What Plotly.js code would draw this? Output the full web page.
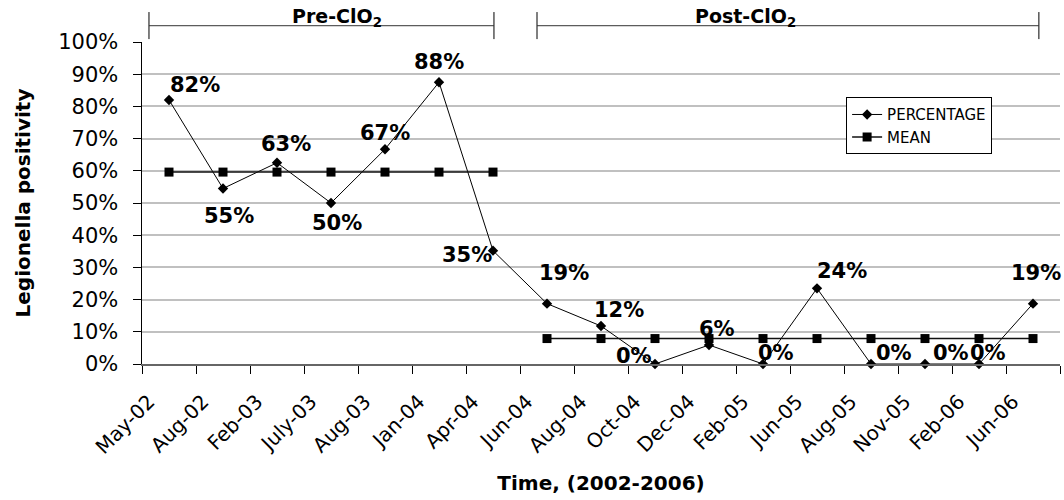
<!DOCTYPE html>
<html>
<head>
<meta charset="utf-8">
<script src="https://cdn.plot.ly/plotly-3.0.1.min.js"></script>
<style>html,body{margin:0;padding:0;background:#fff;}#chart{width:1064px;height:500px;}</style>
</head>
<body>
<div id="chart"></div>
<script>
// ---- data ----
const categories = ['May-02','Aug-02','Feb-03','July-03','Aug-03','Jan-04','Apr-04','Jun-04','Aug-04','Oct-04','Dec-04','Feb-05','Jun-05','Aug-05','Nov-05','Feb-06','Jun-06'];
const percentage = [82, 54.5, 62.5, 50, 66.7, 87.5, 35.2, 18.75, 11.8, 0, 5.9, 0, 23.5, 0, 0, 0, 18.75];
const percentLabels = ['82%','55%','63%','50%','67%','88%','35%','19%','12%','0%','6%','0%','24%','0%','0%','0%','19%'];
const meanPre = [59.6, 59.6, 59.6, 59.6, 59.6, 59.6, 59.6, null, null, null, null, null, null, null, null, null, null];
const meanPost = [null, null, null, null, null, null, null, 7.9, 7.9, 7.9, 7.9, 7.9, 7.9, 7.9, 7.9, 7.9, 7.9];
const yTickVals = [0, 10, 20, 30, 40, 50, 60, 70, 80, 90, 100];
const yTickText = ['0%', '10%', '20%', '30%', '40%', '50%', '60%', '70%', '80%', '90%', '100%'];
const periodNames = ['Pre-ClO<sub>2</sub>', 'Post-ClO<sub>2</sub>'];

// label offsets in pixels (dx right, dy down)
const labelOffsets = [[26,-15],[6,27],[9,-19],[6,20],[0,-16],[0,-20],[-26,4],[17,-31],[18,-16],[-21,-8],[8,-16],[13,-11],[25,-17],[23,-11],[26,-11],[9,-11],[3,-31]];

const FONT = 'DejaVu Sans, Arial, sans-serif';

const traces = [
  {x: categories, y: percentage, type: 'scatter', mode: 'lines+markers', name: 'PERCENTAGE',
    line: {color: '#000', width: 1}, marker: {symbol: 'diamond', size: 8, color: '#000'}, cliponaxis: false},
  {x: categories, y: meanPre, type: 'scatter', mode: 'lines+markers', name: 'MEAN', legendgroup: 'mean',
    line: {color: '#111', width: 1.5}, marker: {symbol: 'square', size: 9, color: '#000'}, cliponaxis: false},
  {x: categories, y: meanPost, type: 'scatter', mode: 'lines+markers', name: 'MEAN', legendgroup: 'mean', showlegend: false,
    line: {color: '#111', width: 1.5}, marker: {symbol: 'square', size: 9, color: '#000'}, cliponaxis: false}
];

const annotations = percentage.map((v,i)=>({
  x: categories[i], y: v, xref: 'x', yref: 'y', text: percentLabels[i], showarrow: false,
  xanchor: 'center', yanchor: 'middle',
  xshift: labelOffsets[i][0], yshift: -labelOffsets[i][1],
  font: {family: FONT, size: 21, color: '#000', weight: 'bold'}
}));
annotations.push({xref:'paper', yref:'paper', x:0.2124, y:1.0776, xanchor:'center', yanchor:'middle',
  text:'<b>'+periodNames[0]+'</b>', showarrow:false, font:{family:FONT, size:19, color:'#000'}});
annotations.push({xref:'paper', yref:'paper', x:0.657, y:1.0776, xanchor:'center', yanchor:'middle',
  text:'<b>'+periodNames[1]+'</b>', showarrow:false, font:{family:FONT, size:19, color:'#000'}});

const bl = {color:'#000', width:1};
const hl = {color:'#333', width:1};
const shapes = [
  {type:'line', xref:'paper', yref:'paper', x0:0.0076, x1:0.0076, y0:1.009, y1:1.093, line:bl},
  {type:'line', xref:'paper', yref:'paper', x0:0.3834, x1:0.3834, y0:1.009, y1:1.093, line:bl},
  {type:'line', xref:'paper', yref:'paper', x0:0.0076, x1:0.3834, y0:1.0506, y1:1.0506, line:hl},
  {type:'line', xref:'paper', yref:'paper', x0:0.4303, x1:0.4303, y0:1.009, y1:1.093, line:bl},
  {type:'line', xref:'paper', yref:'paper', x0:0.977, x1:0.977, y0:1.009, y1:1.093, line:bl},
  {type:'line', xref:'paper', yref:'paper', x0:0.4303, x1:0.977, y0:1.0506, y1:1.0506, line:hl}
];

const layout = {
  width: 1064, height: 500,
  margin: {l: 142, r: 4, t: 42, b: 136},
  paper_bgcolor: '#fff', plot_bgcolor: '#fff',
  font: {family: FONT, color: '#000'},
  showlegend: true,
  legend: {x: 0.767, y: 0.74, xanchor: 'left', yanchor: 'middle', bgcolor: '#fff', bordercolor: '#000', borderwidth: 1,
    font: {family: FONT, size: 15, color: '#000'}, tracegroupgap: 0, itemwidth: 30},
  xaxis: {type: 'category', range: [-0.5, 16.5], tickson: 'boundaries', ticks: 'outside', ticklen: 8, tickcolor: '#000',
    showline: true, linecolor: '#666', linewidth: 2, showgrid: false, zeroline: false,
    tickangle: -45, ticklabelshift: -20, ticklabelstandoff: 16,
    tickfont: {family: FONT, size: 20, color: '#000'},
    title: {text: 'Time, (2002-2006)', font: {family: FONT, size: 20, color: '#000', weight: 'bold'}, standoff: 18}},
  yaxis: {range: [0, 100], tickmode: 'array', tickvals: yTickVals, ticktext: yTickText,
    ticks: 'outside', ticklen: 8, tickcolor: '#000', showline: true, linecolor: '#000', linewidth: 1.5,
    showgrid: true, gridcolor: '#c0c0c0', gridwidth: 2, zeroline: false, ticklabelstandoff: 10,
    tickfont: {family: FONT, size: 21, color: '#000'},
    title: {text: 'Legionella positivity', font: {family: FONT, size: 20, color: '#000', weight: 'bold'}, standoff: 22}},
  annotations: annotations,
  shapes: shapes
};

Plotly.newPlot('chart', traces, layout, {displayModeBar: false, staticPlot: true});
</script>
</body>
</html>
